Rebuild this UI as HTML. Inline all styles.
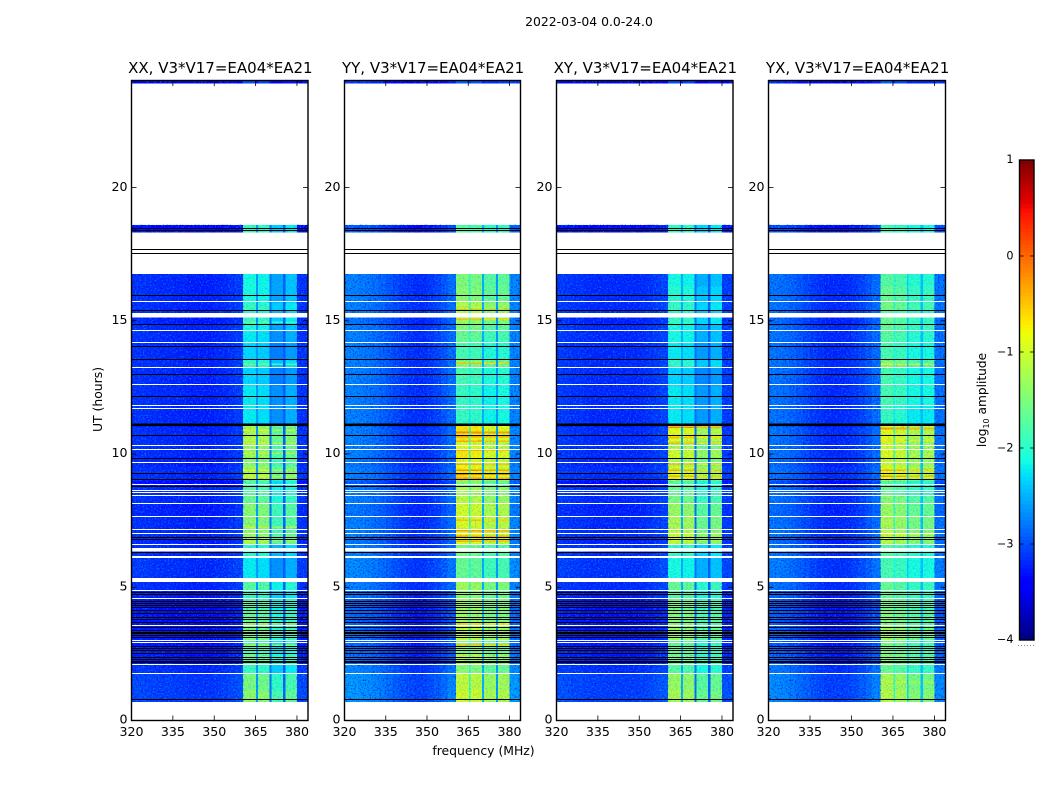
<!DOCTYPE html>
<html lang="en">
<head>
<meta charset="utf-8">
<title>2022-03-04 0.0-24.0</title>
<style>
html,body{margin:0;padding:0;background:#fff;}
svg{display:block;}
text{font-family:"DejaVu Sans","Liberation Sans",sans-serif;fill:#000;}
</style>
</head>
<body>
<svg id="fig" xmlns="http://www.w3.org/2000/svg" width="1050" height="800" viewBox="0 0 1050 800">
<defs>
<filter id="speckle-light" x="0" y="0" width="1" height="1" color-interpolation-filters="sRGB">
<feTurbulence type="fractalNoise" baseFrequency="0.6" numOctaves="2" seed="3"/>
<feColorMatrix values="0 0 0 0 0  0 0 0 0 .72  0 0 0 0 1  4 0 0 0 -2"/>
</filter>
<filter id="speckle-dark" x="0" y="0" width="1" height="1" color-interpolation-filters="sRGB">
<feTurbulence type="fractalNoise" baseFrequency="0.6" numOctaves="2" seed="11"/>
<feColorMatrix values="0 0 0 0 0  0 0 0 0 0  0 0 0 0 .9  0 4 0 0 -2"/>
</filter>
</defs>
<text x="589" y="26" font-size="12.4" text-anchor="middle">2022-03-04 0.0-24.0</text>
<text x="483.5" y="755" font-size="12.4" text-anchor="middle">frequency (MHz)</text>
<text transform="translate(102,399.5) rotate(-90)" font-size="12.4" text-anchor="middle">UT (hours)</text>
<g id="panels"></g>
<g id="cbar"></g>
<text transform="translate(986,400) rotate(-90)" font-size="12.2" text-anchor="middle">log<tspan font-size="8" dy="3">10</tspan><tspan dy="-3"> amplitude</tspan></text>
</svg>
<script>
// ---- chart data ----
const panelTitles = ["XX, V3*V17=EA04*EA21","YY, V3*V17=EA04*EA21","XY, V3*V17=EA04*EA21","YX, V3*V17=EA04*EA21"];
const freqTicks = [320,335,350,365,380];
const hourTicks = [0,5,10,15,20];
const colorTicks = [1,0,-1,-2,-3,-4];
const freqMin = 320, freqMax = 384, hourMin = 0, hourMax = 24, colorMin = -4, colorMax = 1;

// frequency channel edges (MHz): 16 off-band groups, then band groups, then the upper edge group
const freqEdges = [320,322.5,325,327.5,330,332.5,335,337.5,340,342.5,345,347.5,350,352.5,355,357.5,360.5,365.2,365.8,370,370.7,375,375.8,380,384];
// log10 amplitude of each off-band channel group per panel
const bgXX = [-3.15,-3.15,-3.17,-3.18,-3.2,-3.2,-3.22,-3.22,-3.25,-3.25,-3.25,-3.25,-3.22,-3.2,-3.15,-3.1];
const bgYY = [-2.72,-2.72,-2.75,-2.78,-2.82,-2.88,-2.95,-3.02,-3.1,-3.15,-3.18,-3.18,-3.12,-3.05,-2.95,-2.82];
const bgXY = [-3.1,-3.12,-3.15,-3.15,-3.18,-3.2,-3.2,-3.2,-3.2,-3.2,-3.2,-3.2,-3.18,-3.15,-3.1,-3.05];
const bgYX = [-2.78,-2.8,-2.83,-2.88,-2.95,-3.02,-3.1,-3.15,-3.2,-3.2,-3.2,-3.18,-3.12,-3.05,-2.95,-2.82];
const bgRightEdge = [-3.15,-2.7,-3.1,-2.8];
// offset of each sub-band relative to the row level (A, B, C, D)
const bandXX = [0,-0.05,-0.45,-0.3];
const bandYY = [0,-0.05,-0.25,-0.2];
const bandXY = [0,-0.05,-0.4,-0.3];
const bandYX = [0,-0.1,-0.3,-0.3];
// level of the three notches between sub-bands
const notchXX = [-2.6,-2.8,-2.9];
const notchYY = [-2.0,-2.5,-2.6];
const notchXY = [-2.5,-2.8,-2.9];
const notchYX = [-2.0,-2.3,-2.4];

// time row edges (hours) and band level per row
const hourEdges = [0.71,1.13,1.76,2.10,2.55,3.00,3.57,4.06,4.58,4.88,5.33,6.12,6.61,6.83,7.13,7.66,8.15,8.45,8.79,9.01,9.28,9.54,9.84,10.18,10.48,10.78,11.04,11.15,11.83,12.58,13.26,13.56,14.16,14.61,14.87,15.13,15.40,15.70,16.30,16.75,18.33,18.6,23.92,24];
const levelXX = [-1.35,-1.5,-1.9,-1.6,-1.8,-1.5,-1.6,-1.7,-1.9,-1.7,-2.2,-2.0,-1.2,-1.3,-1.4,-1.4,-1.6,-1.7,-1.8,-1.15,-1.25,-1.4,-1.3,-1.3,-1.15,-1.25,-1.1,-2.2,-2.2,-2.3,-1.95,-2.3,-2.2,-2.1,-1.9,-2.0,-1.9,-2.1,-2.1,null,-1.9,null,-3.0];
const levelYY = [-0.95,-1.05,-1.4,-1.15,-1.4,-1.05,-1.25,-1.25,-1.35,-1.25,-1.6,-1.5,-0.85,-0.8,-0.9,-0.95,-1.1,-1.2,-1.4,-0.65,-0.75,-0.85,-0.7,-0.9,-0.7,-0.65,-0.6,-1.9,-1.9,-1.8,-1.4,-1.8,-1.6,-1.45,-1.25,-1.1,-1.1,-1.4,-1.45,null,-1.7,null,-2.9];
const levelXY = [-1.2,-1.3,-1.7,-1.5,-1.6,-1.3,-1.4,-1.5,-1.7,-1.6,-2.1,-1.9,-1.1,-1.0,-1.2,-1.3,-1.5,-1.6,-1.7,-0.85,-0.95,-1.2,-0.95,-1.2,-0.85,-0.85,-0.8,-2.2,-2.2,-2.3,-1.95,-2.2,-2.1,-2.1,-1.9,-2.0,-1.9,-2.0,-2.1,null,-1.9,null,-3.0];
const levelYX = [-1.1,-1.2,-1.6,-1.4,-1.5,-1.25,-1.4,-1.5,-1.6,-1.6,-1.8,-1.7,-1.1,-1.1,-1.2,-1.3,-1.4,-1.6,-1.7,-0.8,-0.85,-1.0,-0.9,-1.0,-0.85,-0.85,-0.8,-1.9,-1.8,-1.8,-1.45,-1.8,-1.7,-1.6,-1.6,-1.7,-1.5,-1.6,-1.7,null,-1.8,null,-2.9];
// off-band brightness change per time row
const bgRowShift = [0.12,0.12,0.03,-0.1,-0.12,-0.1,-0.14,-0.14,-0.08,0,0.05,0,-0.05,0,0,-0.05,0,0,-0.2,0,0,-0.05,0,0,0,0,-0.2,0,0,0,0,0,0,0,-0.05,0,0,0,0,0,-0.2,0,-0.4];
// bright narrow time samples in the band: hour, level
const stripeXX = [[14.95,-1.6],[13.37,-1.6],[10.89,-0.9],[10.4,-0.9],[10.03,-1.0],[9.39,-0.9],[9.16,-0.9],[6.76,-1.0],[7.25,-1.05],[3.64,-1.2],[2.82,-1.2]];
const stripeYY = [[15.4,-0.2],[15.06,-0.5],[13.41,-0.5],[10.81,-0.2],[10.66,-0.3],[10.48,-0.4],[10.14,-0.4],[9.61,-0.4],[9.39,-0.2],[9.24,-0.1],[9.09,-0.3],[7.51,-0.5],[7.13,-0.3],[6.91,-0.3],[6.72,-0.4],[3.64,-0.6],[2.82,-0.5]];
const stripeXY = [[11.0,-0.2],[10.62,-0.5],[10.4,-0.5],[9.61,-0.5],[9.39,-0.4],[9.16,-0.4],[6.76,-0.8]];
const stripeYX = [[13.37,-0.9],[10.96,-0.3],[10.5,-0.7],[9.39,-0.4],[9.16,-0.3],[7.0,-0.7],[1.43,-1.0]];

// flagged time samples (hours)
const whiteHours = [15.72,14.63,14.18,13.24,12.61,11.82,11.72,10.32,10.18,9.68,8.85,8.64,8.56,8.44,8.14,7.66,7.16,7.01,6.60,4.87,4.57,3.56,2.99,2.93,2.10,1.75];
const whiteBands = [[15.13,15.29],[6.35,6.47],[6.09,6.17],[5.19,5.34]];
const blackHours = [15.95,15.37,14.86,14.03,13.54,12.98,12.16,10.69,9.83,9.26,9.04,8.79,6.86,6.79,6.30,4.81,4.73,4.47,4.38,4.32,4.25,4.13,4.01,3.86,3.78,3.69,3.50,3.38,3.32,3.26,3.19,3.11,2.79,2.71,2.63,2.53,2.38,2.28,2.20,2.16,0.78,18.46,18.40,17.67,17.52];
const blackBands = [[11.05,11.15]];

// ---- layout ----
const NS = "http://www.w3.org/2000/svg";
const panelBox = [{l:131.5,r:308},{l:344.5,r:520.5},{l:556.5,r:733},{l:768.5,r:945.5}];
const plotTop = 81, plotBottom = 720.5;
const bgSets = [bgXX,bgYY,bgXY,bgYX];
const bandSets = [bandXX,bandYY,bandXY,bandYX];
const notchSets = [notchXX,notchYY,notchXY,notchYX];
const levelSets = [levelXX,levelYY,levelXY,levelYX];
const stripeSets = [stripeXX,stripeYY,stripeXY,stripeYX];

function make(tag, attrs, parent){
  const e = document.createElementNS(NS, tag);
  for (const k in attrs) e.setAttribute(k, attrs[k]);
  parent.appendChild(e);
  return e;
}
function yOf(h){ return plotBottom - (h-hourMin)/(hourMax-hourMin)*(plotBottom-plotTop); }
function jetChannel(n, pts){
  for (let i=1;i<pts.length;i++){
    if (n<=pts[i][0]){
      const a=pts[i-1], b=pts[i];
      return a[1]+(b[1]-a[1])*(n-a[0])/(b[0]-a[0]);
    }
  }
  return pts[pts.length-1][1];
}
const jetR=[[0,0],[0.35,0],[0.66,1],[0.89,1],[1,0.5]];
const jetG=[[0,0],[0.125,0],[0.375,1],[0.64,1],[0.91,0],[1,0]];
const jetB=[[0,0.5],[0.11,1],[0.34,1],[0.65,0],[1,0]];
function jet(v){
  const n=Math.max(0,Math.min(1,(v-colorMin)/(colorMax-colorMin)));
  const c=[jetR,jetG,jetB].map(p=>Math.round(255*jetChannel(n,p)));
  return "rgb("+c[0]+","+c[1]+","+c[2]+")";
}
// value of one frequency group given the row level
function cellValue(p,c,rowLevel,rowShift){
  if (c<16) return bgSets[p][c]+rowShift;
  const k=c-16;
  if (k===7) return bgRightEdge[p]+rowShift;
  if (k%2===1) return Math.min(notchSets[p][(k-1)/2], rowLevel-0.3);
  return rowLevel+bandSets[p][k/2];
}

// ---- panels ----
const root = document.getElementById("panels");
panelTitles.forEach(function(title,p){
  const box = panelBox[p];
  const xOf = f => box.l + (f-freqMin)/(freqMax-freqMin)*(box.r-box.l);
  const g = make("g",{},root);
  
  
  const cells = make("g",{"shape-rendering":"crispEdges"},g);
  
  
  for (let r=0;r<hourEdges.length-1;r++){
    const lv = levelSets[p][r];
    if (lv===null) continue;
    for (let c=0;c<freqEdges.length-1;c++){
      const v = cellValue(p,c,lv,bgRowShift[r]);
      const x0=xOf(freqEdges[c]), x1=xOf(freqEdges[c+1]), y1=yOf(hourEdges[r]), y0=yOf(hourEdges[r+1]);
      const cell = make("rect",{x:x0.toFixed(2),y:y0.toFixed(2),width:(x1-x0+0.3).toFixed(2),height:(y1-y0+0.3).toFixed(2),fill:jet(v)},cells);
      
      
    }
  }
  // bright narrow samples within the four sub-bands
  stripeSets[p].forEach(function(st){
    for (let k=0;k<7;k+=2){
      const x0=xOf(freqEdges[16+k]), x1=xOf(freqEdges[17+k]);
      const s = make("rect",{x:x0.toFixed(2),y:(yOf(st[0])-0.8).toFixed(2),width:(x1-x0).toFixed(2),height:1.6,fill:jet(st[1]+bandSets[p][k/2]*0.6)},cells);
      
      
    }
  });
  // speckle texture
  const regions=[[0.71,16.75],[18.33,18.6],[23.92,24]];
  regions.forEach(function(reg){
    [[320,360.5,0.45,0.55],[360.5,380,0.15,0.15],[380,384,0.45,0.55]].forEach(function(sp){
      ["speckle-light","speckle-dark"].forEach(function(fid,n){
        const t = make("rect",{x:xOf(sp[0]),y:yOf(reg[1]),width:xOf(sp[1])-xOf(sp[0]),height:yOf(reg[0])-yOf(reg[1]),filter:"url(#"+fid+")",opacity:sp[2+n]},g);
        
        
      });
    });
  });
  // flagged samples
  const flags = make("g",{"shape-rendering":"crispEdges"},g);
  
  
  const w = box.r-box.l;
  whiteHours.forEach(function(h){
    const s = make("rect",{x:box.l,y:Math.round(yOf(h)-0.5),width:w,height:1,fill:"#fff"},flags);
    
    
  });
  whiteBands.forEach(function(b){
    const s = make("rect",{x:box.l,y:yOf(b[1]),width:w,height:yOf(b[0])-yOf(b[1]),fill:"#fff"},flags);
    
    
  });
  blackHours.forEach(function(h){
    const s = make("rect",{x:box.l,y:Math.round(yOf(h)-0.5),width:w,height:1,fill:"#000"},flags);
    
    
  });
  blackBands.forEach(function(b){
    const s = make("rect",{x:box.l,y:yOf(b[1]),width:w,height:yOf(b[0])-yOf(b[1]),fill:"#000"},flags);
    
    
  });
  // frame
  const frame = make("rect",{x:box.l,y:plotTop-0.5,width:w,height:plotBottom-plotTop+0.5,fill:"none",stroke:"#000","stroke-width":1.4},g);
  
  
  // title
  const tt = make("text",{x:(box.l+box.r)/2+0.6,y:73,"font-size":15,"text-anchor":"middle"},g);
  tt.textContent = title;
  
  
  // x ticks
  freqTicks.forEach(function(f){
    const x=xOf(f);
    const t1 = make("line",{x1:x,x2:x,y1:plotBottom,y2:plotBottom-5,stroke:"#000","stroke-width":0.8},g);
    
    
    const t2 = make("line",{x1:x,x2:x,y1:plotTop,y2:plotTop+5,stroke:"#000","stroke-width":0.8},g);
    
    
    const l = make("text",{x:x,y:736,"font-size":12.6,"text-anchor":"middle"},g);
    l.textContent = f;
    
    
  });
  // y ticks
  hourTicks.forEach(function(h){
    const y=yOf(h);
    const t1 = make("line",{x1:box.l,x2:box.l+5,y1:y,y2:y,stroke:"#000","stroke-width":0.8},g);
    
    
    const t2 = make("line",{x1:box.r,x2:box.r-5,y1:y,y2:y,stroke:"#000","stroke-width":0.8},g);
    
    
    const l = make("text",{x:box.l-4,y:y+3.2,"font-size":12.6,"text-anchor":"end"},g);
    l.textContent = h;
    
    
  });
});

// ---- colorbar ----
const cb = document.getElementById("cbar");
const cbL=1019.5, cbR=1034, cbT=160, cbB=640;
const cbY = v => cbB-(v-colorMin)/(colorMax-colorMin)*(cbB-cbT);
const cbSteps = 120;
const cbG = make("g",{"shape-rendering":"crispEdges"},cb);


for (let i=0;i<cbSteps;i++){
  const v0=colorMin+(colorMax-colorMin)*i/cbSteps, v1=colorMin+(colorMax-colorMin)*(i+1)/cbSteps;
  const s = make("rect",{x:cbL,y:cbY(v1),width:cbR-cbL,height:cbY(v0)-cbY(v1)+0.5,fill:jet((v0+v1)/2)},cbG);
  
  
}
const cbF = make("rect",{x:cbL,y:cbT,width:cbR-cbL,height:cbB-cbT,fill:"none",stroke:"#000","stroke-width":1.4},cb);


colorTicks.forEach(function(v){
  const y=cbY(v);
  if (v<colorMax && v>colorMin){
    const a = make("line",{x1:cbL,x2:cbL+4,y1:y,y2:y,stroke:"#000","stroke-width":0.8},cb);
    
    
    const b = make("line",{x1:cbR,x2:cbR-4,y1:y,y2:y,stroke:"#000","stroke-width":0.8},cb);
    
    
  }
  const l = make("text",{x:1013.5,y:y+(v===colorMax?3:v===colorMin?3:3.5),"font-size":11.2,"text-anchor":"end"},cb);
  l.textContent = (v<0 ? "\u2212"+(-v) : String(v));
  
  
});
const dots = make("line",{x1:1018,x2:1035,y1:645.5,y2:645.5,stroke:"#888","stroke-width":1,"stroke-dasharray":"1 2"},cb);


</script>
</body>
</html>
